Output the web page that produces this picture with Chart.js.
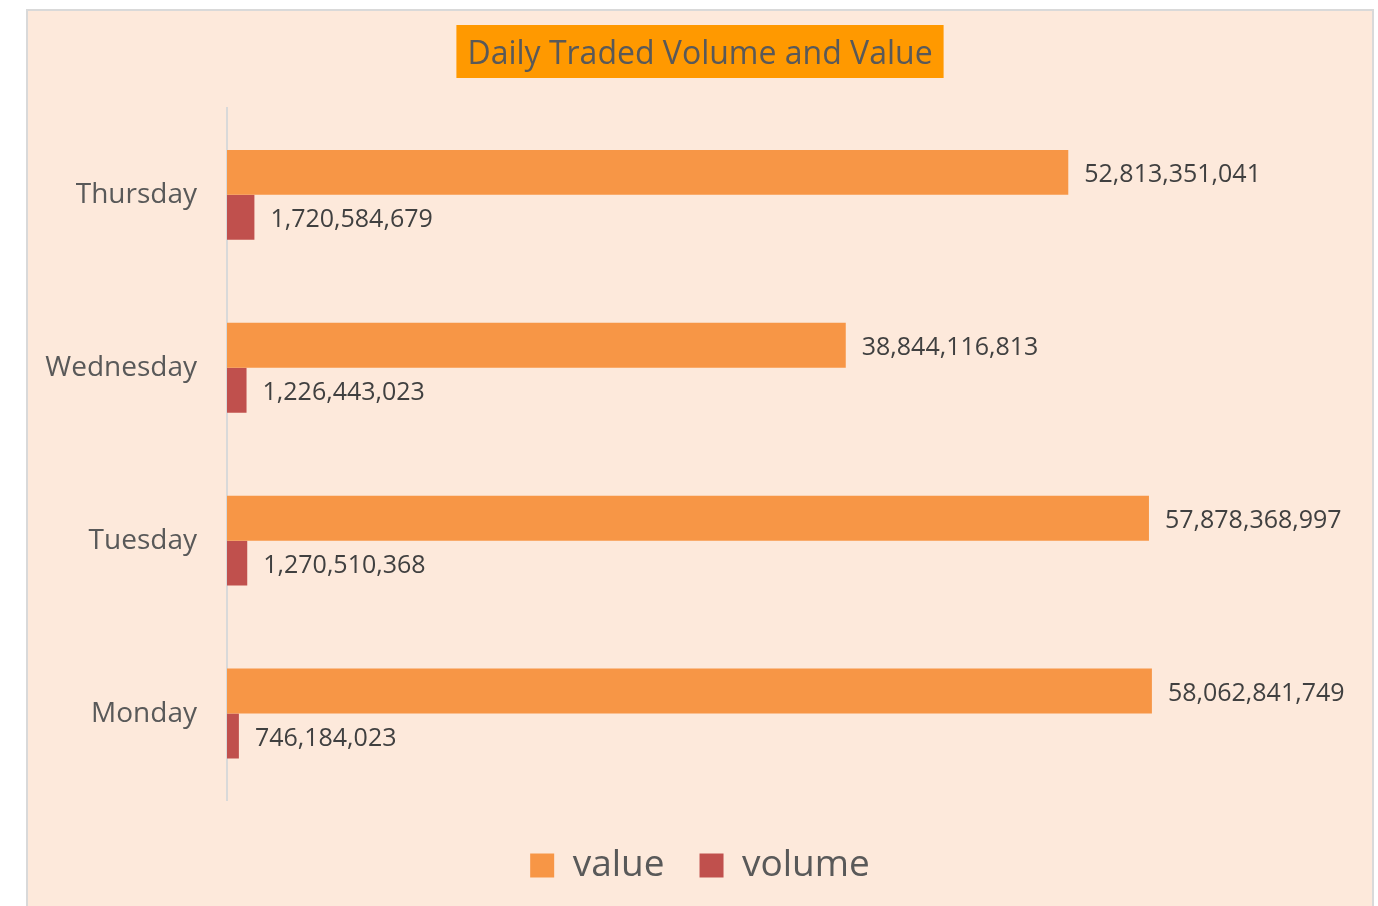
<!DOCTYPE html>
<html>
<head>
<meta charset="utf-8">
<script src="https://cdn.jsdelivr.net/npm/chart.js@4/dist/chart.umd.min.js"></script>
<style>
  html, body { margin: 0; padding: 0; background: #ffffff; overflow: hidden; }
  #frame {
    position: absolute; left: 26px; top: 9px;
    width: 1344px; height: 900px;
    border: 2px solid #d9d9d9;
    background: #fde9db;
  }
  canvas { display: block; }
</style>
</head>
<body>
<div id="frame"><canvas id="chart" width="1344" height="900"></canvas></div>
<script>
// data
const days = ["Thursday", "Wednesday", "Tuesday", "Monday"];
const valueData = [52813351041, 38844116813, 57878368997, 58062841749];
const volumeData = [1720584679, 1226443023, 1270510368, 746184023];

const FONT = "'Open Sans', 'Noto Sans', sans-serif";
const TITLE_SIZE = 32;

// orange box behind the title text
const titleBox = {
  id: "titleBox",
  beforeDraw(chart) {
    const t = chart.titleBlock;
    if (!t) return;
    const ctx = chart.ctx;
    ctx.save();
    ctx.font = TITLE_SIZE + "px " + FONT;
    const w = ctx.measureText(chart.options.plugins.title.text).width;
    const cx = (t.left + t.right) / 2;
    const top = t.top + t.options.padding.top;
    ctx.fillStyle = "#ff9900";
    ctx.fillRect(cx - w / 2 - 11, top - 11, w + 22, 53);
    ctx.restore();
  },
};

// value labels to the right of each bar
const barLabels = {
  id: "barLabels",
  afterDatasetsDraw(chart) {
    const ctx = chart.ctx;
    ctx.save();
    ctx.font = "25px " + FONT;
    ctx.fillStyle = "#404040";
    ctx.textBaseline = "middle";
    ctx.textAlign = "left";
    chart.data.datasets.forEach((ds, i) => {
      chart.getDatasetMeta(i).data.forEach((bar, j) => {
        ctx.fillText(ds.data[j].toLocaleString("en-US"), bar.x + 16, bar.y + 3);
      });
    });
    ctx.restore();
  },
};

new Chart(document.getElementById("chart"), {
  type: "bar",
  data: {
    labels: days,
    datasets: [
      {
        label: "value",
        data: valueData,
        backgroundColor: "#f79646",
        barPercentage: 1,
        categoryPercentage: 0.52,
      },
      {
        label: "volume",
        data: volumeData,
        backgroundColor: "#c0504d",
        barPercentage: 1,
        categoryPercentage: 0.52,
      },
    ],
  },
  options: {
    indexAxis: "y",
    responsive: false,
    animation: false,
    layout: { padding: { left: 0, right: 0, top: 0, bottom: 17 } },
    plugins: {
      title: {
        display: true,
        text: "Daily Traded Volume and Value",
        color: "#595959",
        font: { family: FONT, size: TITLE_SIZE, weight: "normal" },
        padding: { top: 25, bottom: 34 },
      },
      legend: {
        position: "bottom",
        // blank legend title, only used as extra space above the items
        title: { display: true, text: " ", font: { size: 10 }, padding: 0 },
        labels: {
          color: "#595959",
          font: { family: FONT, size: 37 },
          boxWidth: 24,
          boxHeight: 24,
          padding: 35,
        },
      },
      tooltip: { enabled: false },
    },
    scales: {
      x: {
        display: false,
        min: 0,
        max: 71880000000,
      },
      y: {
        grid: { display: false },
        border: { display: true, color: "#d9d9d9", width: 2 },
        ticks: {
          color: "#595959",
          font: { family: FONT, size: 28 },
          padding: 22,
        },
        afterFit(scale) {
          scale.width = 199;
        },
      },
    },
  },
  plugins: [titleBox, barLabels],
});
</script>
</body>
</html>
